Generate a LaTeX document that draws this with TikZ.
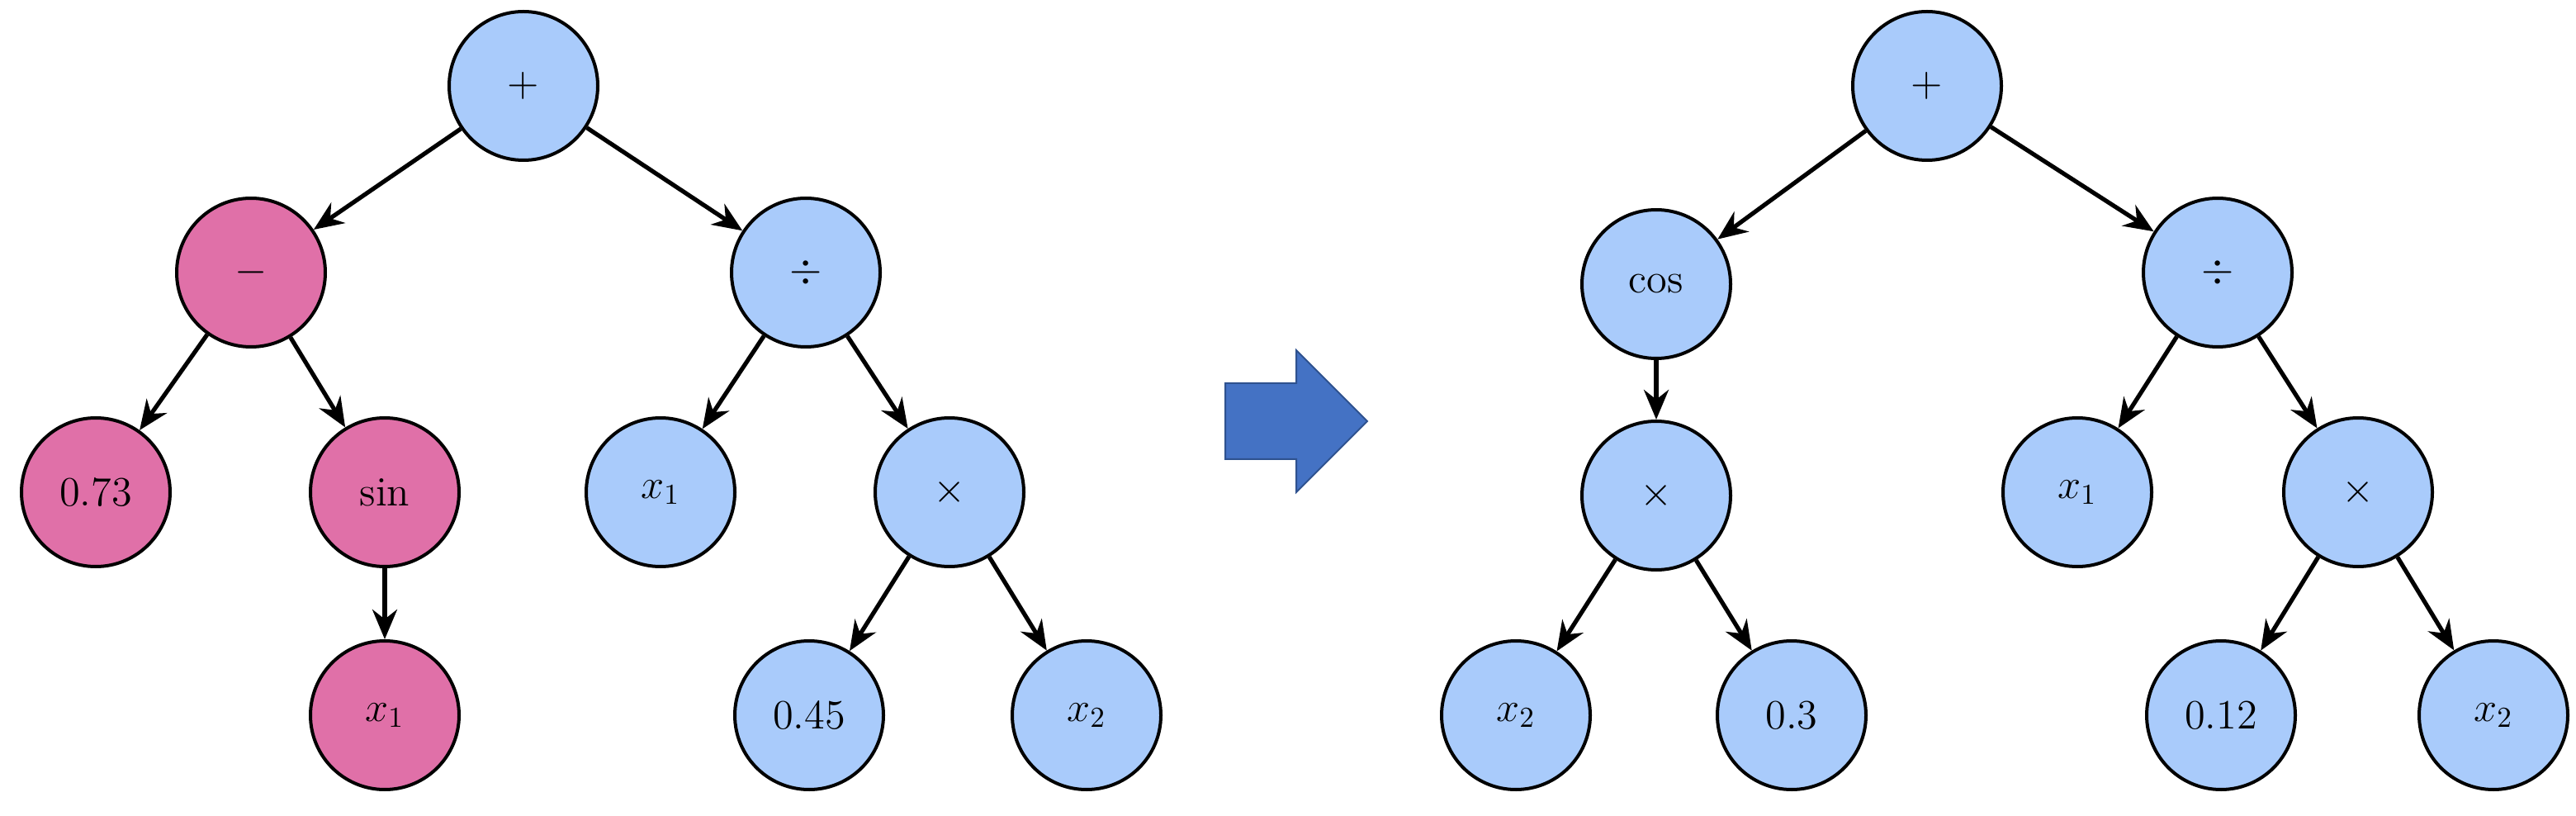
\documentclass[tikz,border=0pt]{standalone}
\usepackage{graphicx}
\usetikzlibrary{arrows.meta}
\definecolor{bl}{HTML}{A9CBFB}
\definecolor{pk}{HTML}{E070A8}
\definecolor{ar}{HTML}{4472C4}
\definecolor{arb}{HTML}{2F528F}
\newcommand{\Tx}[1]{\scalebox{1.75}{\Large #1}}
\begin{document}
\begin{tikzpicture}[x=1pt,y=-1pt,
 n/.style={circle,draw=black,line width=2pt,minimum size=90pt,inner sep=0pt},
 b/.style={n,fill=bl}, p/.style={n,fill=pk},
 e/.style={-{Stealth[length=18pt,width=15pt]},line width=2.6pt}]
\useasboundingbox (0,0) rectangle (1560,494);
\node[b] (A) at (317,52) {\Tx{$+$}};
\node[p] (B) at (152,165) {\Tx{$-$}};
\node[b] (C) at (488,165) {\Tx{$\div$}};
\node[p] (D) at (58,298) {\Tx{0.73}};
\node[p] (E) at (233,298) {\Tx{sin}};
\node[b] (F) at (400,298) {\Tx{$x_1$}};
\node[b] (G) at (575,298) {\Tx{$\times$}};
\node[p] (H) at (233,433) {\Tx{$x_1$}};
\node[b] (I) at (490,433) {\Tx{0.45}};
\node[b] (J) at (658,433) {\Tx{$x_2$}};
\foreach \a/\b in {A/B,A/C,B/D,B/E,C/F,C/G,E/H,G/I,G/J} \draw[e] (\a) -- (\b);
\node[b] (A2) at (1167,52) {\Tx{$+$}};
\node[b] (B2) at (1003,172) {\Tx{cos}};
\node[b] (C2) at (1343,165) {\Tx{$\div$}};
\node[b] (D2) at (1003,300) {\Tx{$\times$}};
\node[b] (F2) at (1258,298) {\Tx{$x_1$}};
\node[b] (G2) at (1428,298) {\Tx{$\times$}};
\node[b] (H2) at (918,433) {\Tx{$x_2$}};
\node[b] (K2) at (1085,433) {\Tx{0.3}};
\node[b] (I2) at (1345,433) {\Tx{0.12}};
\node[b] (J2) at (1510,433) {\Tx{$x_2$}};
\foreach \a/\b in {A2/B2,A2/C2,B2/D2,C2/F2,C2/G2,D2/H2,D2/K2,G2/I2,G2/J2} \draw[e] (\a) -- (\b);
\draw[draw=arb,fill=ar,line width=1pt] (742,232) -- (785,232) -- (785,212) -- (828,255) -- (785,298) -- (785,278) -- (742,278) -- cycle;
\end{tikzpicture}
\end{document}
